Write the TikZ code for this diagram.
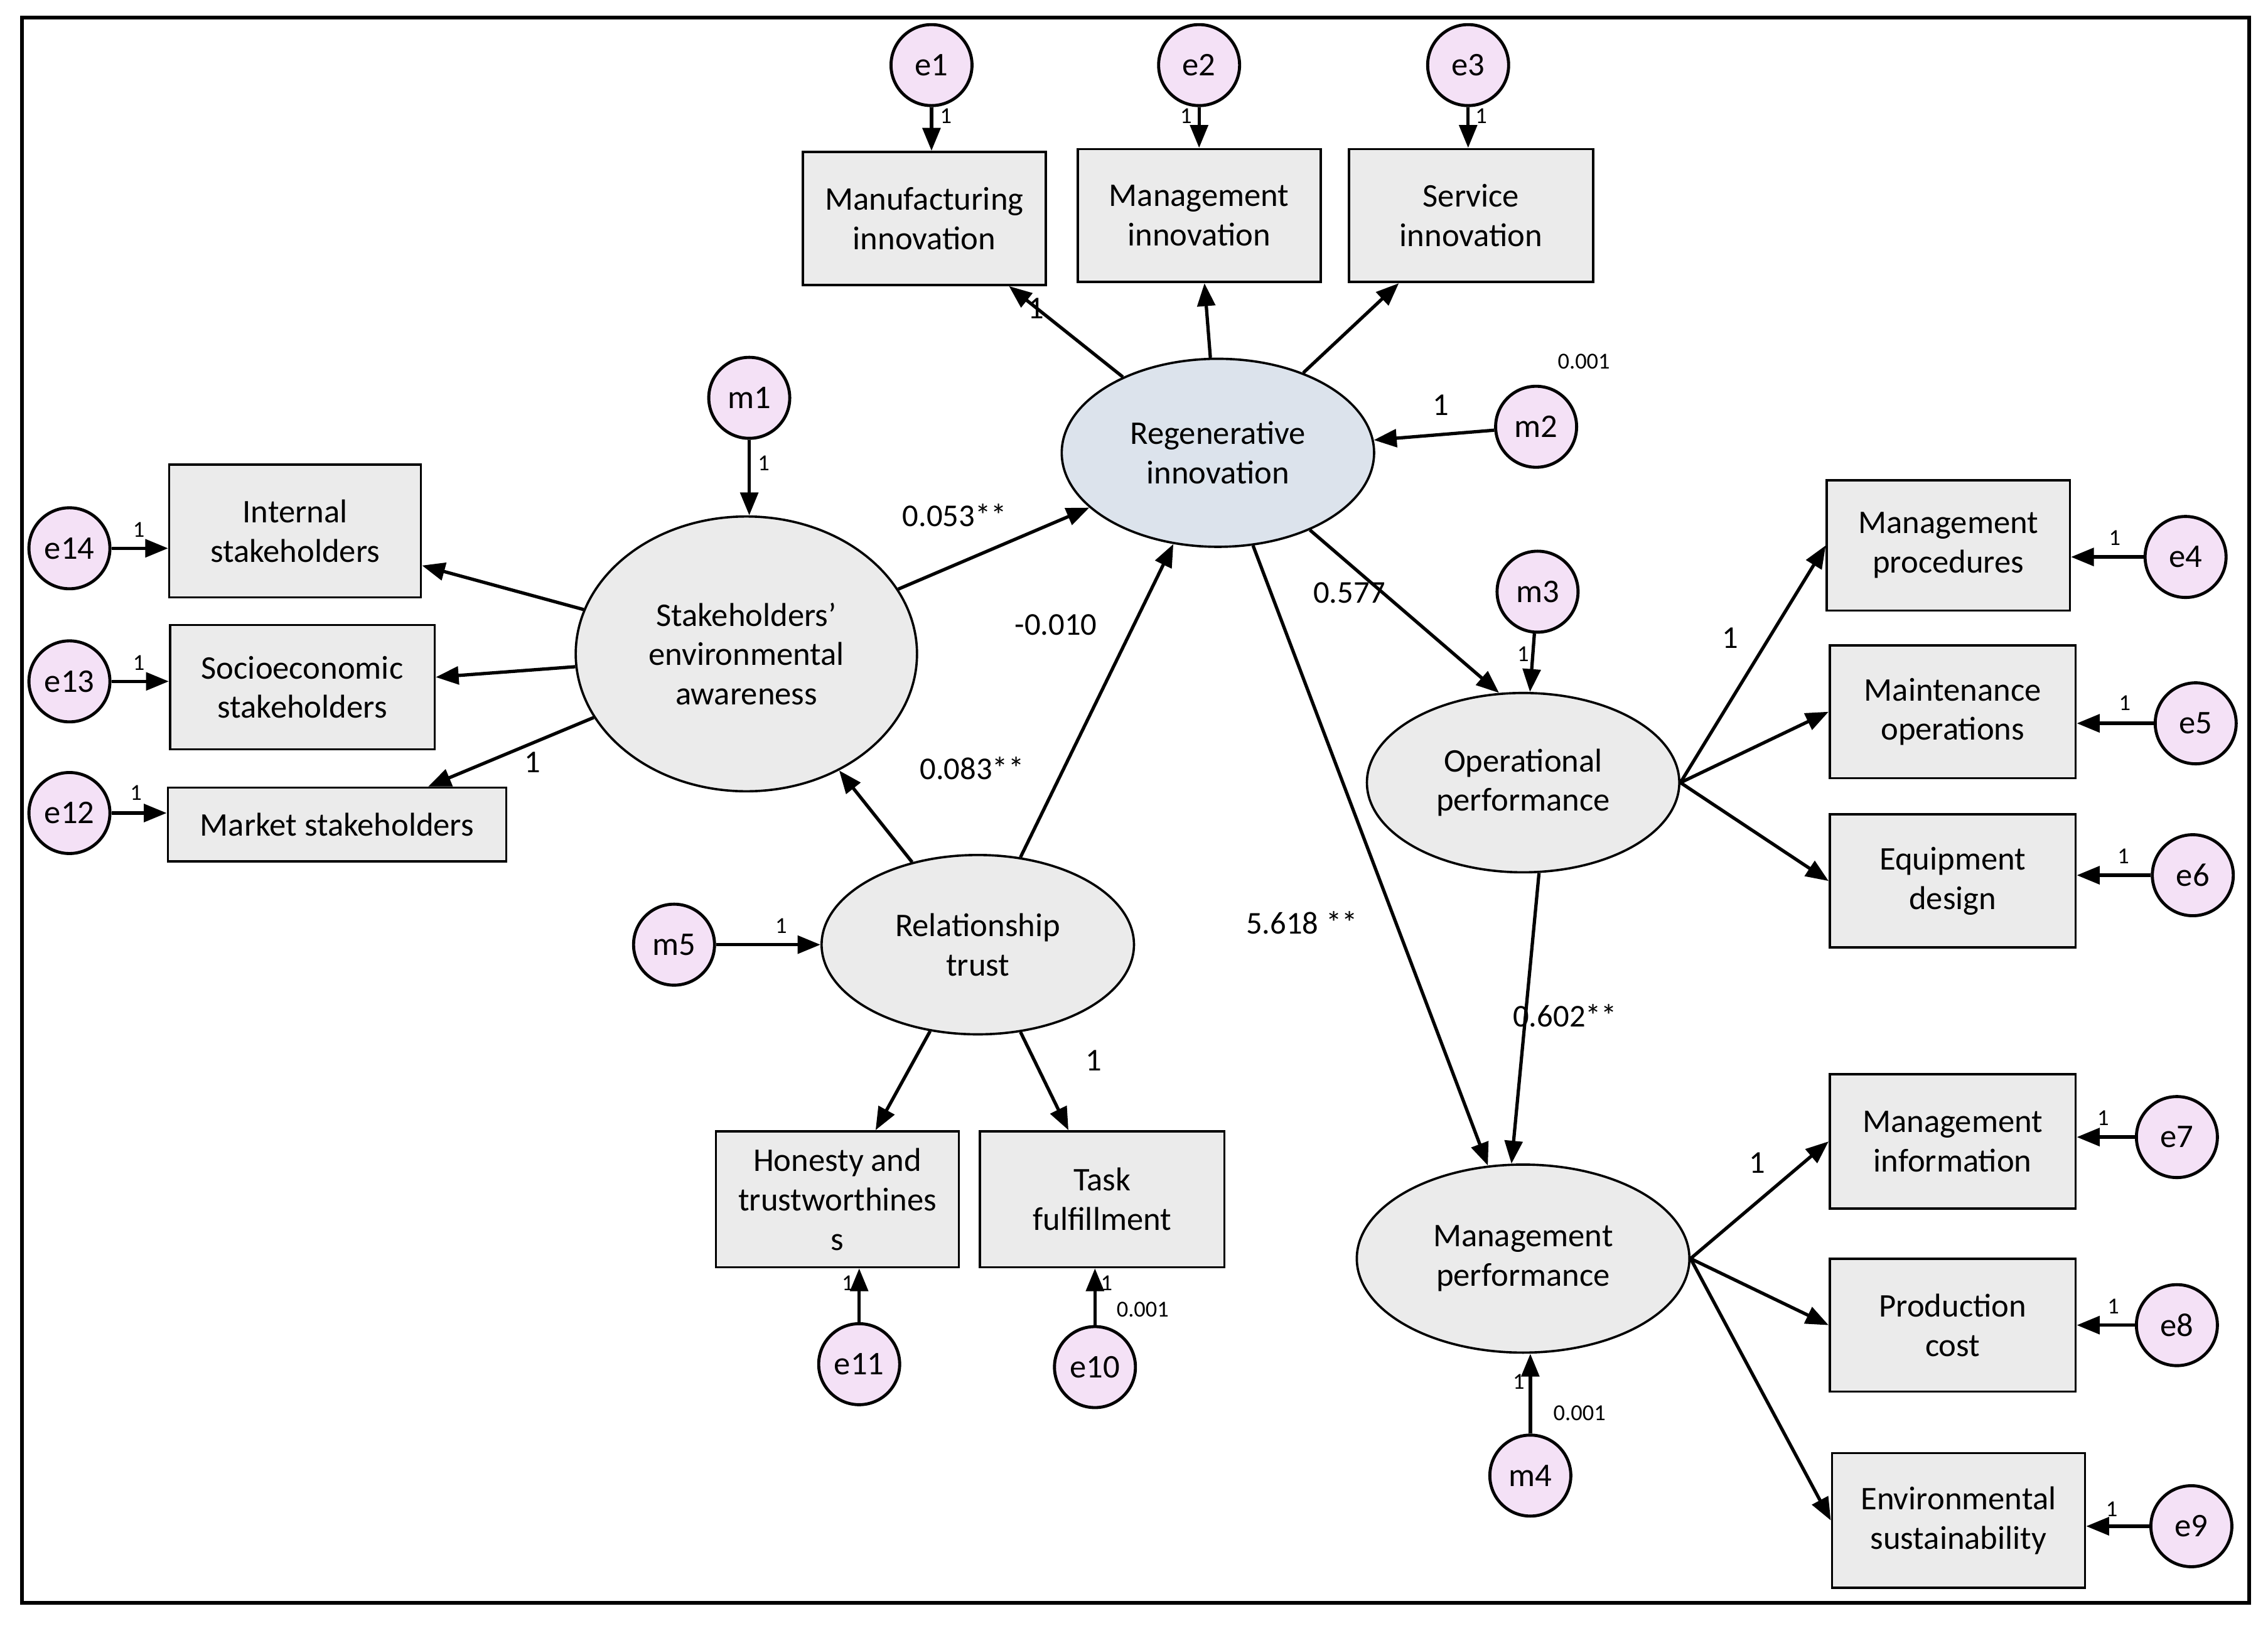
\documentclass[tikz,border=0pt]{standalone}
\usepackage{fontspec}
\setmainfont{Carlito}
\usetikzlibrary{shapes.geometric,arrows.meta}
\begin{document}
\begin{tikzpicture}[x=0.02cm,y=-0.02cm,
  every node/.style={font=\fontsize{13}{15.5}\selectfont,align=center},
  box/.style={draw,fill=boxgray,line width=0.9pt,minimum width=3.4cm,minimum height=1.84cm,inner sep=1pt},
  lat/.style={ellipse,draw,fill=boxgray,line width=0.9pt,minimum width=4.32cm,minimum height=2.48cm,inner sep=0pt},
  err/.style={circle,draw,fill=errpink,line width=1.2pt,minimum size=1.12cm,inner sep=0pt,font=\fontsize{13}{15}\selectfont},
  arr/.style={-{Triangle[length=9pt,width=7pt]},line width=1.3pt},
  sm/.style={font=\fontsize{9}{10}\selectfont,inner sep=1pt},
  lb/.style={font=\fontsize{12.5}{14}\selectfont,inner sep=1pt}]
\definecolor{boxgray}{HTML}{EBEBEB}
\definecolor{errpink}{HTML}{F4E1F6}
\definecolor{regblue}{HTML}{DCE3EC}
\useasboundingbox (0,0) rectangle (1568,1132);
\draw[line width=1.5pt] (15,12) rectangle (1555,1108);
% top boxes
\node[box,minimum width=3.36cm] (manu) at (639,151) {Manufacturing\\innovation};
\node[box,minimum width=3.36cm] (mgi) at (829,149) {Management\\innovation};
\node[box,minimum width=3.38cm] (ser) at (1017,149) {Service\\innovation};
\node[err] (e1) at (644,45) {e1};
\node[err] (e2) at (829,45) {e2};
\node[err] (e3) at (1015,45) {e3};
\node[lat,fill=regblue,minimum height=2.6cm] (reg) at (842,313) {Regenerative\\innovation};
\node[err] (m2) at (1062,295) {m2};
\node[err] (m1) at (518,275) {m1};
\node[lat,minimum width=4.72cm,minimum height=3.8cm] (sea) at (516,452) {Stakeholders'\\environmental\\awareness};
\node[box,minimum width=3.48cm] (int) at (204,367) {Internal\\stakeholders};
\node[box,minimum width=3.66cm,minimum height=1.72cm] (soc) at (209,475) {Socioeconomic\\stakeholders};
\node[box,minimum width=4.68cm,minimum height=1.02cm] (mar) at (233,570) {Market stakeholders};
\node[err] (e14) at (48,379) {e14};
\node[err] (e13) at (48,471) {e13};
\node[err] (e12) at (48,562) {e12};
\node[lat] (rt) at (676,653) {Relationship\\trust};
\node[err] (m5) at (466,653) {m5};
\node[box,minimum width=3.36cm,minimum height=1.88cm] (hon) at (579,829) {Honesty and\\trustworthines\\s};
\node[box,minimum width=3.38cm,minimum height=1.88cm] (task) at (762,829) {Task\\fulfillment};
\node[err] (e11) at (594,943) {e11};
\node[err] (e10) at (757,945) {e10};
\node[lat] (op) at (1053,541) {Operational\\performance};
\node[err] (m3) at (1063,409) {m3};
\node[box,minimum width=3.36cm,minimum height=1.8cm] (proc) at (1347,377) {Management\\procedures};
\node[box] (mnt) at (1350,492) {Maintenance\\operations};
\node[box] (eqp) at (1350,609) {Equipment\\design};
\node[err] (e4) at (1511,385) {e4};
\node[err] (e5) at (1518,500) {e5};
\node[err] (e6) at (1516,605) {e6};
\node[lat,minimum width=4.6cm,minimum height=2.6cm] (mp) at (1053,870) {Management\\performance};
\node[err] (m4) at (1058,1020) {m4};
\node[box,minimum height=1.86cm] (minf) at (1350,789) {Management\\information};
\node[box] (pc) at (1350,916) {Production\\cost};
\node[box,minimum width=3.5cm,minimum height=1.86cm] (env) at (1354,1051) {Environmental\\sustainability};
\node[err] (e7) at (1505,786) {e7};
\node[err] (e8) at (1505,916) {e8};
\node[err] (e9) at (1515,1055) {e9};
% error arrows
\draw[arr] (e1) -- (e1 |- manu.north);
\draw[arr] (e2) -- (e2 |- mgi.north);
\draw[arr] (e3) -- (e3 |- ser.north);
\draw[arr] (e14) -- (e14 -| int.west);
\draw[arr] (e13) -- (e13 -| soc.west);
\draw[arr] (e12) -- (e12 -| mar.west);
\draw[arr] (e11) -- (e11 |- hon.south);
\draw[arr] (e10) -- (e10 |- task.south);
\draw[arr] (e4) -- (e4 -| proc.east);
\draw[arr] (e5) -- (e5 -| mnt.east);
\draw[arr] (e6) -- (e6 -| eqp.east);
\draw[arr] (e7) -- (e7 -| minf.east);
\draw[arr] (e8) -- (e8 -| pc.east);
\draw[arr] (e9) -- (e9 -| env.east);
\draw[arr] (m1) -- (m1 |- sea.north);
\draw[arr] (m2) -- (reg);
\draw[arr] (m3) -- (op);
\draw[arr] (m4) -- (m4 |- mp.south);
\draw[arr] (m5) -- (rt.west);
% structural
\draw[arr] (reg) -- (manu);
\draw[arr] (reg) -- (mgi);
\draw[arr] (reg) -- (ser);
\draw[arr] (sea) -- (reg);
\draw[arr] (sea) -- (int);
\draw[arr] (sea) -- (soc);
\draw[arr] (sea) -- (mar);
\draw[arr] (rt) -- (sea);
\draw[arr] (rt) -- (reg);
\draw[arr] (rt) -- (hon);
\draw[arr] (rt) -- (task);
\draw[arr] (reg.-40) -- (op.105);
\draw[arr] (reg) -- (mp);
\draw[arr] (op.-80) -- (mp.97);
\draw[arr] (op.east) -- (proc.west);
\draw[arr] (op.east) -- (mnt.west);
\draw[arr] (op.east) -- (eqp.west);
\draw[arr] (mp.east) -- (minf.west);
\draw[arr] (mp.east) -- (pc.west);
\draw[arr] (mp.east) -- (env.west);
% small labels
\node[sm] at (654,80) {1};
\node[sm] at (820,80) {1};
\node[sm] at (1024,80) {1};
\node[sm] at (96,366) {1};
\node[sm] at (96,458) {1};
\node[sm] at (94,548) {1};
\node[sm] at (528,320) {1};
\node[sm] at (540,640) {1};
\node[sm] at (1053,452) {1};
\node[sm] at (1462,372) {1};
\node[sm] at (1469,486) {1};
\node[sm] at (1468,592) {1};
\node[sm] at (1454,773) {1};
\node[sm] at (1461,903) {1};
\node[sm] at (1460,1043) {1};
\node[sm] at (586,887) {1};
\node[sm] at (765,887) {1};
\node[sm] at (790,905) {0.001};
\node[sm] at (1050,955) {1};
\node[sm] at (1092,977) {0.001};
\node[sm] at (1095,250) {0.001};
% path labels
\node[lb] at (716,213) {1};
\node[lb] at (996,280) {1};
\node[lb] at (660,356) {0.053**};
\node[lb] at (368,527) {1};
\node[lb] at (672,531) {0.083**};
\node[lb] at (730,432) {-0.010};
\node[lb] at (756,733) {1};
\node[lb] at (933,410) {0.577};
\node[lb] at (900,638) {5.618 **};
\node[lb] at (1082,702) {0.602**};
\node[lb] at (1196,441) {1};
\node[lb] at (1215,804) {1};
\end{tikzpicture}
\end{document}
